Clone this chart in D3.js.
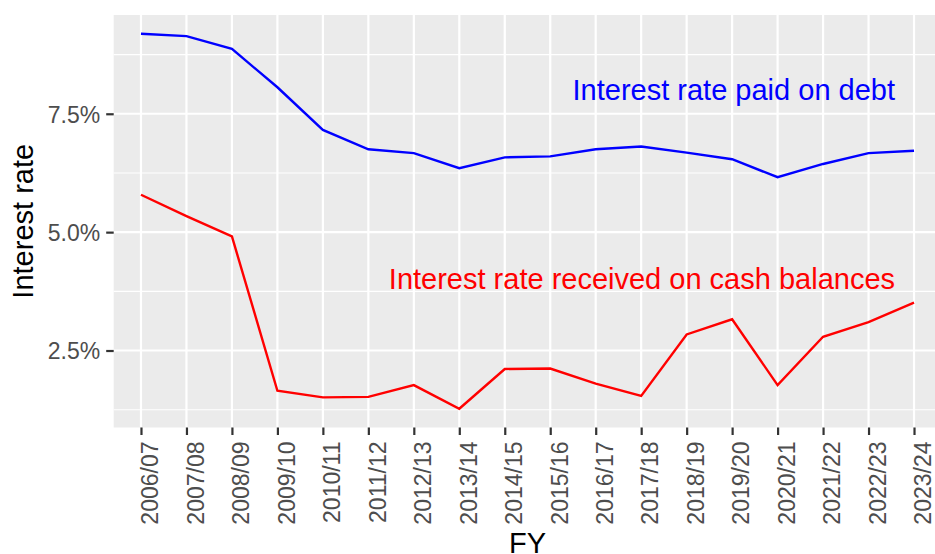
<!DOCTYPE html>
<html>
<head>
<meta charset="utf-8">
<script src="https://cdn.jsdelivr.net/npm/d3@7"></script>
<style>
  body { margin: 0; background: #fff; }
  svg { display: block; font-family: "Liberation Sans", Arial, sans-serif; }
</style>
</head>
<body>
<div id="chart"></div>
<script>
const years = ["2006/07", "2007/08", "2008/09", "2009/10", "2010/11", "2011/12", "2012/13",
  "2013/14", "2014/15", "2015/16", "2016/17", "2017/18", "2018/19", "2019/20", "2020/21",
  "2021/22", "2022/23", "2023/24"];
const debtRate = [9.19, 9.14, 8.87, 8.06, 7.16, 6.75, 6.67, 6.35, 6.58, 6.60, 6.75, 6.81,
  6.68, 6.54, 6.16, 6.44, 6.67, 6.72];
const cashRate = [5.79, 5.34, 4.91, 1.65, 1.51, 1.52, 1.77, 1.27, 2.11, 2.12, 1.80, 1.54,
  2.84, 3.16, 1.77, 2.79, 3.10, 3.51];
const yTicks = [2.5, 5.0, 7.5];
const yMinor = [1.25, 3.75, 6.25, 8.75];
const labels = [
  { text: "Interest rate paid on debt", color: "#0000FF", value: 7.8 },
  { text: "Interest rate received on cash balances", color: "#FF0000", value: 3.8 }
];

const W = 935, H = 554;
const pLeft = 113.7, pRight = 941.3, pTop = 15, pBottom = 427.5;

const svg = d3.select("#chart").append("svg")
  .attr("width", W).attr("height", H);

// discrete x scale with ggplot-like 0.6 expansion
const step = (pRight - pLeft) / (years.length - 1 + 1.2);
const x = d3.scalePoint().domain(years)
  .range([pLeft + 0.6 * step, pRight - 0.6 * step]);

const all = debtRate.concat(cashRate);
const lo = d3.min(all), hi = d3.max(all), pad = (hi - lo) * 0.05;
const y = d3.scaleLinear().domain([lo - pad, hi + pad]).range([pBottom, pTop]);

// panel
svg.append("rect")
  .attr("x", pLeft).attr("y", pTop)
  .attr("width", pRight - pLeft).attr("height", pBottom - pTop)
  .attr("fill", "#EBEBEB");

const grid = svg.append("g");
grid.selectAll(".minor").data(yMinor).enter().append("line")
  .attr("x1", pLeft).attr("x2", pRight)
  .attr("y1", d => y(d)).attr("y2", d => y(d))
  .attr("stroke", "#fff").attr("stroke-width", 1.1);
grid.selectAll(".majy").data(yTicks).enter().append("line")
  .attr("x1", pLeft).attr("x2", pRight)
  .attr("y1", d => y(d)).attr("y2", d => y(d))
  .attr("stroke", "#fff").attr("stroke-width", 2.2);
grid.selectAll(".majx").data(years).enter().append("line")
  .attr("x1", d => x(d)).attr("x2", d => x(d))
  .attr("y1", pTop).attr("y2", pBottom)
  .attr("stroke", "#fff").attr("stroke-width", 2.2);

// lines
const line = d3.line().x((d, i) => x(years[i])).y(d => y(d));
svg.append("path").datum(debtRate)
  .attr("d", line).attr("fill", "none")
  .attr("stroke", "#0000FF").attr("stroke-width", 2.4);
svg.append("path").datum(cashRate)
  .attr("d", line).attr("fill", "none")
  .attr("stroke", "#FF0000").attr("stroke-width", 2.4);

// annotations
svg.selectAll(".lab").data(labels).enter().append("text")
  .attr("x", x("2023/24") - 19)
  .attr("y", d => y(d.value))
  .attr("text-anchor", "end")
  .attr("font-size", 29)
  .attr("fill", d => d.color)
  .text(d => d.text);

// y axis
const yAxis = svg.append("g")
  .attr("transform", `translate(${pLeft},0)`)
  .call(d3.axisLeft(y).tickValues(yTicks).tickSize(7.5).tickPadding(6)
    .tickFormat(d => d3.format(".1f")(d) + "%"));
yAxis.select(".domain").remove();
yAxis.selectAll(".tick line").attr("stroke", "#333").attr("stroke-width", 2.2);
yAxis.selectAll(".tick text").attr("fill", "#4D4D4D").attr("font-size", 23)
  .attr("font-family", "Liberation Sans, Arial, sans-serif").attr("dy", "0.36em");

// x axis
const xAxis = svg.append("g")
  .attr("transform", `translate(0,${pBottom})`)
  .call(d3.axisBottom(x).tickSize(7.5).tickPadding(0));
xAxis.select(".domain").remove();
xAxis.selectAll(".tick line").attr("stroke", "#333").attr("stroke-width", 2.2);
xAxis.selectAll(".tick text")
  .attr("fill", "#4D4D4D").attr("font-size", 23)
  .attr("font-family", "Liberation Sans, Arial, sans-serif")
  .attr("text-anchor", "end")
  .attr("transform", "translate(8.5,14) rotate(-90)")
  .attr("x", 0).attr("y", 0).attr("dy", "0.36em");

// axis titles
svg.append("text")
  .attr("transform", `translate(33,${(pTop + pBottom) / 2}) rotate(-90)`)
  .attr("text-anchor", "middle")
  .attr("font-size", 29)
  .attr("fill", "#000")
  .text("Interest rate");
svg.append("text")
  .attr("x", (pLeft + pRight) / 2).attr("y", 552.5)
  .attr("text-anchor", "middle")
  .attr("font-size", 29)
  .attr("fill", "#000")
  .text("FY");
</script>
</body>
</html>
